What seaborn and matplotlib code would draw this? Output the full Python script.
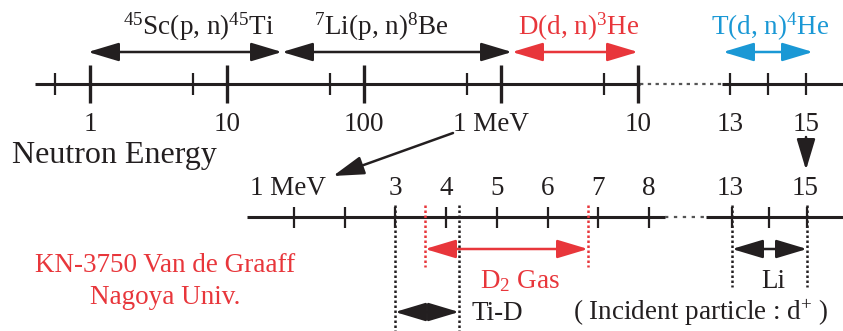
"""
Neutron energy ranges of accelerator-based reactions
(schematic number line, drawn in pixel-like data units)
"""

import matplotlib
matplotlib.use('Agg')
import matplotlib.pyplot as plt
from matplotlib.patches import ArrowStyle
import seaborn as sns

# =====================================================
# DATA
# =====================================================

BLACK = '#231f20'
RED = '#e8363b'
BLUE = '#1a98d5'

# upper (log) energy axis
TOP_Y = 84
TOP_MAJOR_X = [90, 227, 364, 501, 638]
TOP_MINOR_X = [55, 193, 330, 467, 604, 730, 768, 806]
TOP_LABEL_X = [90, 227, 364, 491, 638, 730, 806]
TOP_LABELS = ['1', '10', '100', '1 MeV', '10', '13', '15']

# lower (linear, MeV) axis
BOT_Y = 217
BOT_TICK_X = [294, 345, 395, 446, 497, 548, 598, 649, 732, 769, 807]
BOT_LABEL_X = [288, 395, 446, 497, 548, 598, 649, 730, 805]
BOT_LABELS = ['1 MeV', '3', '4', '5', '6', '7', '8', '13', '15']

# reaction ranges on the upper axis
REACTION_START = [88, 282, 512, 723]
REACTION_END = [282, 512, 638, 813]
REACTION_LABELS = [r'$^{45}$Sc(p, n)$^{45}$Ti', r'$^{7}$Li(p, n)$^{8}$Be',
                   r'D(d, n)$^{3}$He', r'T(d, n)$^{4}$He']
REACTION_LABEL_X = [199, 381, 579, 770]
REACTION_COLORS = [BLACK, BLACK, RED, BLUE]

# target ranges on the lower axis
TARGET_START = [425, 732, 395]
TARGET_END = [588, 807, 459]
TARGET_Y = [249, 249, 312]
TARGET_COLORS = [RED, BLACK, BLACK]
TARGET_LABELS = [r'D$_2$ Gas', 'Li', 'Ti-D']
TARGET_LABEL_X = [520, 773, 472]
TARGET_LABEL_HA = ['center', 'center', 'left']
TARGET_LABEL_Y = [288, 288, 320]

# dotted guide lines: x, bottom y, colour
GUIDE_X = [395, 459, 425, 588, 732, 807]
GUIDE_BOTTOM = [331, 331, 267, 267, 287, 287]
GUIDE_COLORS = [BLACK, BLACK, RED, RED, BLACK, BLACK]

# =====================================================
# STYLE
# =====================================================

sns.set_theme(style='white')
plt.rcParams['font.family'] = ['Liberation Serif', 'DejaVu Serif']
plt.rcParams['mathtext.fontset'] = 'custom'
plt.rcParams['mathtext.rm'] = 'Liberation Serif'
plt.rcParams['mathtext.it'] = 'Liberation Serif:italic'
plt.rcParams['mathtext.bf'] = 'Liberation Serif:bold'

FS = 19.5
AXIS_LW = 2.2
TICK_LW = 1.6


def arrow(ax, x0, y0, x1, y1, color, style='<|-|>'):
    st = ArrowStyle(style, head_length=1.0, head_width=0.3)
    ax.annotate('', xy=(x1, y1), xytext=(x0, y0),
                arrowprops=dict(arrowstyle=st, mutation_scale=19, lw=1.8,
                                color=color, shrinkA=0, shrinkB=0))


fig = plt.figure(figsize=(8.43, 3.31), dpi=100)
ax = fig.add_axes([0, 0, 1, 1])
ax.set_xlim(0, 843)
ax.set_ylim(331, 0)
ax.axis('off')

# ---- upper axis ----
ax.hlines(TOP_Y, 35, 640, color=BLACK, lw=AXIS_LW)
ax.hlines(TOP_Y, 640, 722, color='#555555', lw=1.6, linestyles=(0, (1.5, 2)))
ax.hlines(TOP_Y, 722, 843, color=BLACK, lw=AXIS_LW)
ax.vlines(TOP_MAJOR_X, 65, 103, color=BLACK, lw=2.4)
ax.vlines(TOP_MINOR_X, 73, 95, color=BLACK, lw=TICK_LW)
for x, lab in zip(TOP_LABEL_X, TOP_LABELS):
    ax.text(x, 131, lab, ha='center', va='baseline', fontsize=FS, color=BLACK)

for x0, x1, lab, lx, c in zip(REACTION_START, REACTION_END, REACTION_LABELS,
                              REACTION_LABEL_X, REACTION_COLORS):
    arrow(ax, x0, 52, x1, 52, c)
    ax.text(lx, 35, lab, ha='center', va='baseline', fontsize=FS, color=c)

ax.text(12, 163, 'Neutron Energy', ha='left', va='baseline', fontsize=23,
        color=BLACK)

# zoom-in pointers
arrow(ax, 453, 133, 333, 176, BLACK, style='-|>')
arrow(ax, 806, 137, 806, 170, BLACK, style='-|>')

# ---- lower axis ----
ax.hlines(BOT_Y, 247, 665, color=BLACK, lw=AXIS_LW)
ax.hlines(BOT_Y, 665, 706, color='#555555', lw=1.6, linestyles=(0, (1.5, 2.5)))
ax.hlines(BOT_Y, 706, 843, color=BLACK, lw=AXIS_LW)
ax.vlines(BOT_TICK_X, 207, 228, color=BLACK, lw=TICK_LW)
for x, lab in zip(BOT_LABEL_X, BOT_LABELS):
    ax.text(x, 195, lab, ha='center', va='baseline', fontsize=FS, color=BLACK)

for x, yb, c in zip(GUIDE_X, GUIDE_BOTTOM, GUIDE_COLORS):
    ax.vlines(x, 205, yb, color=c, lw=1.8, linestyles=(0, (1, 1)))

for x0, x1, y, c, lab, lx, ha, ly in zip(TARGET_START, TARGET_END, TARGET_Y,
                                         TARGET_COLORS, TARGET_LABELS,
                                         TARGET_LABEL_X, TARGET_LABEL_HA,
                                         TARGET_LABEL_Y):
    arrow(ax, x0, y, x1, y, c)
    ax.text(lx, ly, lab, ha=ha, va='baseline', fontsize=FS, color=c)

ax.text(701, 320, r'( Incident particle : d$^{+}$ )', ha='center',
        va='baseline', fontsize=FS, color=BLACK)

ax.text(165, 272, 'KN-3750 Van de Graaff', ha='center', va='baseline',
        fontsize=FS, color=RED)
ax.text(165, 304, 'Nagoya Univ.', ha='center', va='baseline',
        fontsize=FS, color=RED)

fig.savefig('out.png', dpi=100)
